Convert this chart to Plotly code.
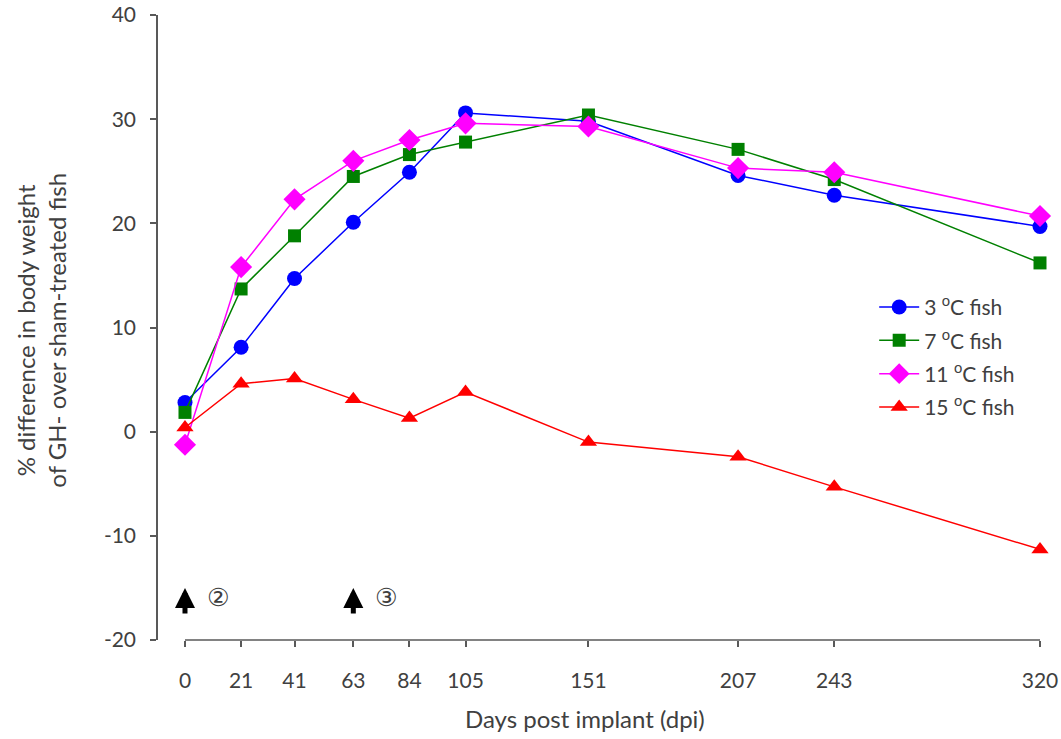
import plotly.graph_objects as go

days = [0, 21, 41, 63, 84, 105, 151, 207, 243, 320]
fish3 = [2.8, 8.1, 14.7, 20.1, 24.9, 30.6, 29.8, 24.6, 22.7, 19.7]
fish7 = [1.85, 13.7, 18.8, 24.5, 26.6, 27.8, 30.4, 27.1, 24.2, 16.2]
fish11 = [-1.25, 15.8, 22.3, 26.0, 28.0, 29.6, 29.3, 25.3, 24.9, 20.7]
fish15 = [0.4, 4.6, 5.1, 3.1, 1.3, 3.8, -1.0, -2.4, -5.3, -11.3]
names = ["3 <sup>o</sup>C fish", "7 <sup>o</sup>C fish", "11 <sup>o</sup>C fish", "15 <sup>o</sup>C fish"]
colors = ["#0000FF", "#008000", "#FF00FF", "#FF0000"]
symbols = ["circle", "square", "diamond", "triangle-up"]
sizes = [15, 13, 17, 15]
series = [fish3, fish7, fish11, fish15]

y_ticks = [-20, -10, 0, 10, 20, 30, 40]
y_ticktext = ["-20", "-10", "0", "10", "20", "30", "40"]

arrow_days = [0, 63]
arrow_labels = ["②", "③"]

FONT = "Lato"
TXT = "#404040"
AX = "#595959"

fig = go.Figure()
for i, (vals, nm, c, s, sz) in enumerate(zip(series, names, colors, symbols, sizes)):
    fig.add_trace(go.Scatter(
        x=days, y=vals, name=nm, mode="lines+markers", legendgroup=f"g{i}",
        line=dict(color=c, width=1.5),
        marker=dict(symbol=s, size=sz, color=c),
        cliponaxis=False,
    ))

for d, lab in zip(arrow_days, arrow_labels):
    fig.add_annotation(x=d, y=-15.0, ax=d, ay=-17.6, xref="x", yref="y", axref="x", ayref="y",
                       text="", showarrow=True, arrowhead=2, arrowsize=0.8, arrowwidth=5,
                       arrowcolor="black")
    fig.add_annotation(x=d + 7.5, y=-15.9, xref="x", yref="y", text=lab, showarrow=False,
                       xanchor="left", yanchor="middle",
                       font=dict(size=25, color=TXT, family="DejaVu Sans"))

fig.add_shape(type="line", xref="x", yref="paper", x0=0, x1=320, y0=0, y1=0,
              line=dict(color=AX, width=1.5))

fig.add_annotation(text="Days post implant (dpi)", xref="paper", yref="paper",
                   x=0.484, y=-0.125, xanchor="center", yanchor="middle", showarrow=False,
                   font=dict(size=24, color=TXT, family=FONT))
fig.add_annotation(text="% difference in body weight<br>of GH- over sham-treated fish",
                   xref="paper", yref="paper", x=-0.133, y=0.496, textangle=-90,
                   xanchor="center", yanchor="middle", showarrow=False,
                   font=dict(size=24, color=TXT, family=FONT))

fig.update_layout(
    width=1061, height=739,
    margin=dict(l=158, r=21, t=15, b=99, autoexpand=False),
    paper_bgcolor="white", plot_bgcolor="white",
    font=dict(family=FONT, size=21, color=TXT),
    showlegend=True,
    legend=dict(x=0.812, y=0.565, xanchor="left", yanchor="top",
                font=dict(size=21, color=TXT), bgcolor="rgba(0,0,0,0)",
                itemwidth=40, tracegroupgap=3),
    xaxis=dict(range=[-10.1, 320], tickvals=days, ticktext=[str(d) for d in days],
               showgrid=False, zeroline=False, showline=False, automargin=False,
               ticks="outside", ticklen=6, tickcolor=AX, tickwidth=1.5,
               ticklabelstandoff=16),
    yaxis=dict(range=[-20, 40], tickvals=y_ticks, ticktext=y_ticktext,
               showgrid=False, zeroline=False, showline=True, linecolor=AX, linewidth=1.5,
               automargin=False,
               ticks="outside", ticklen=6, tickcolor=AX, tickwidth=1.5,
               ticklabelstandoff=10),
)

fig.write_html("out.html")
